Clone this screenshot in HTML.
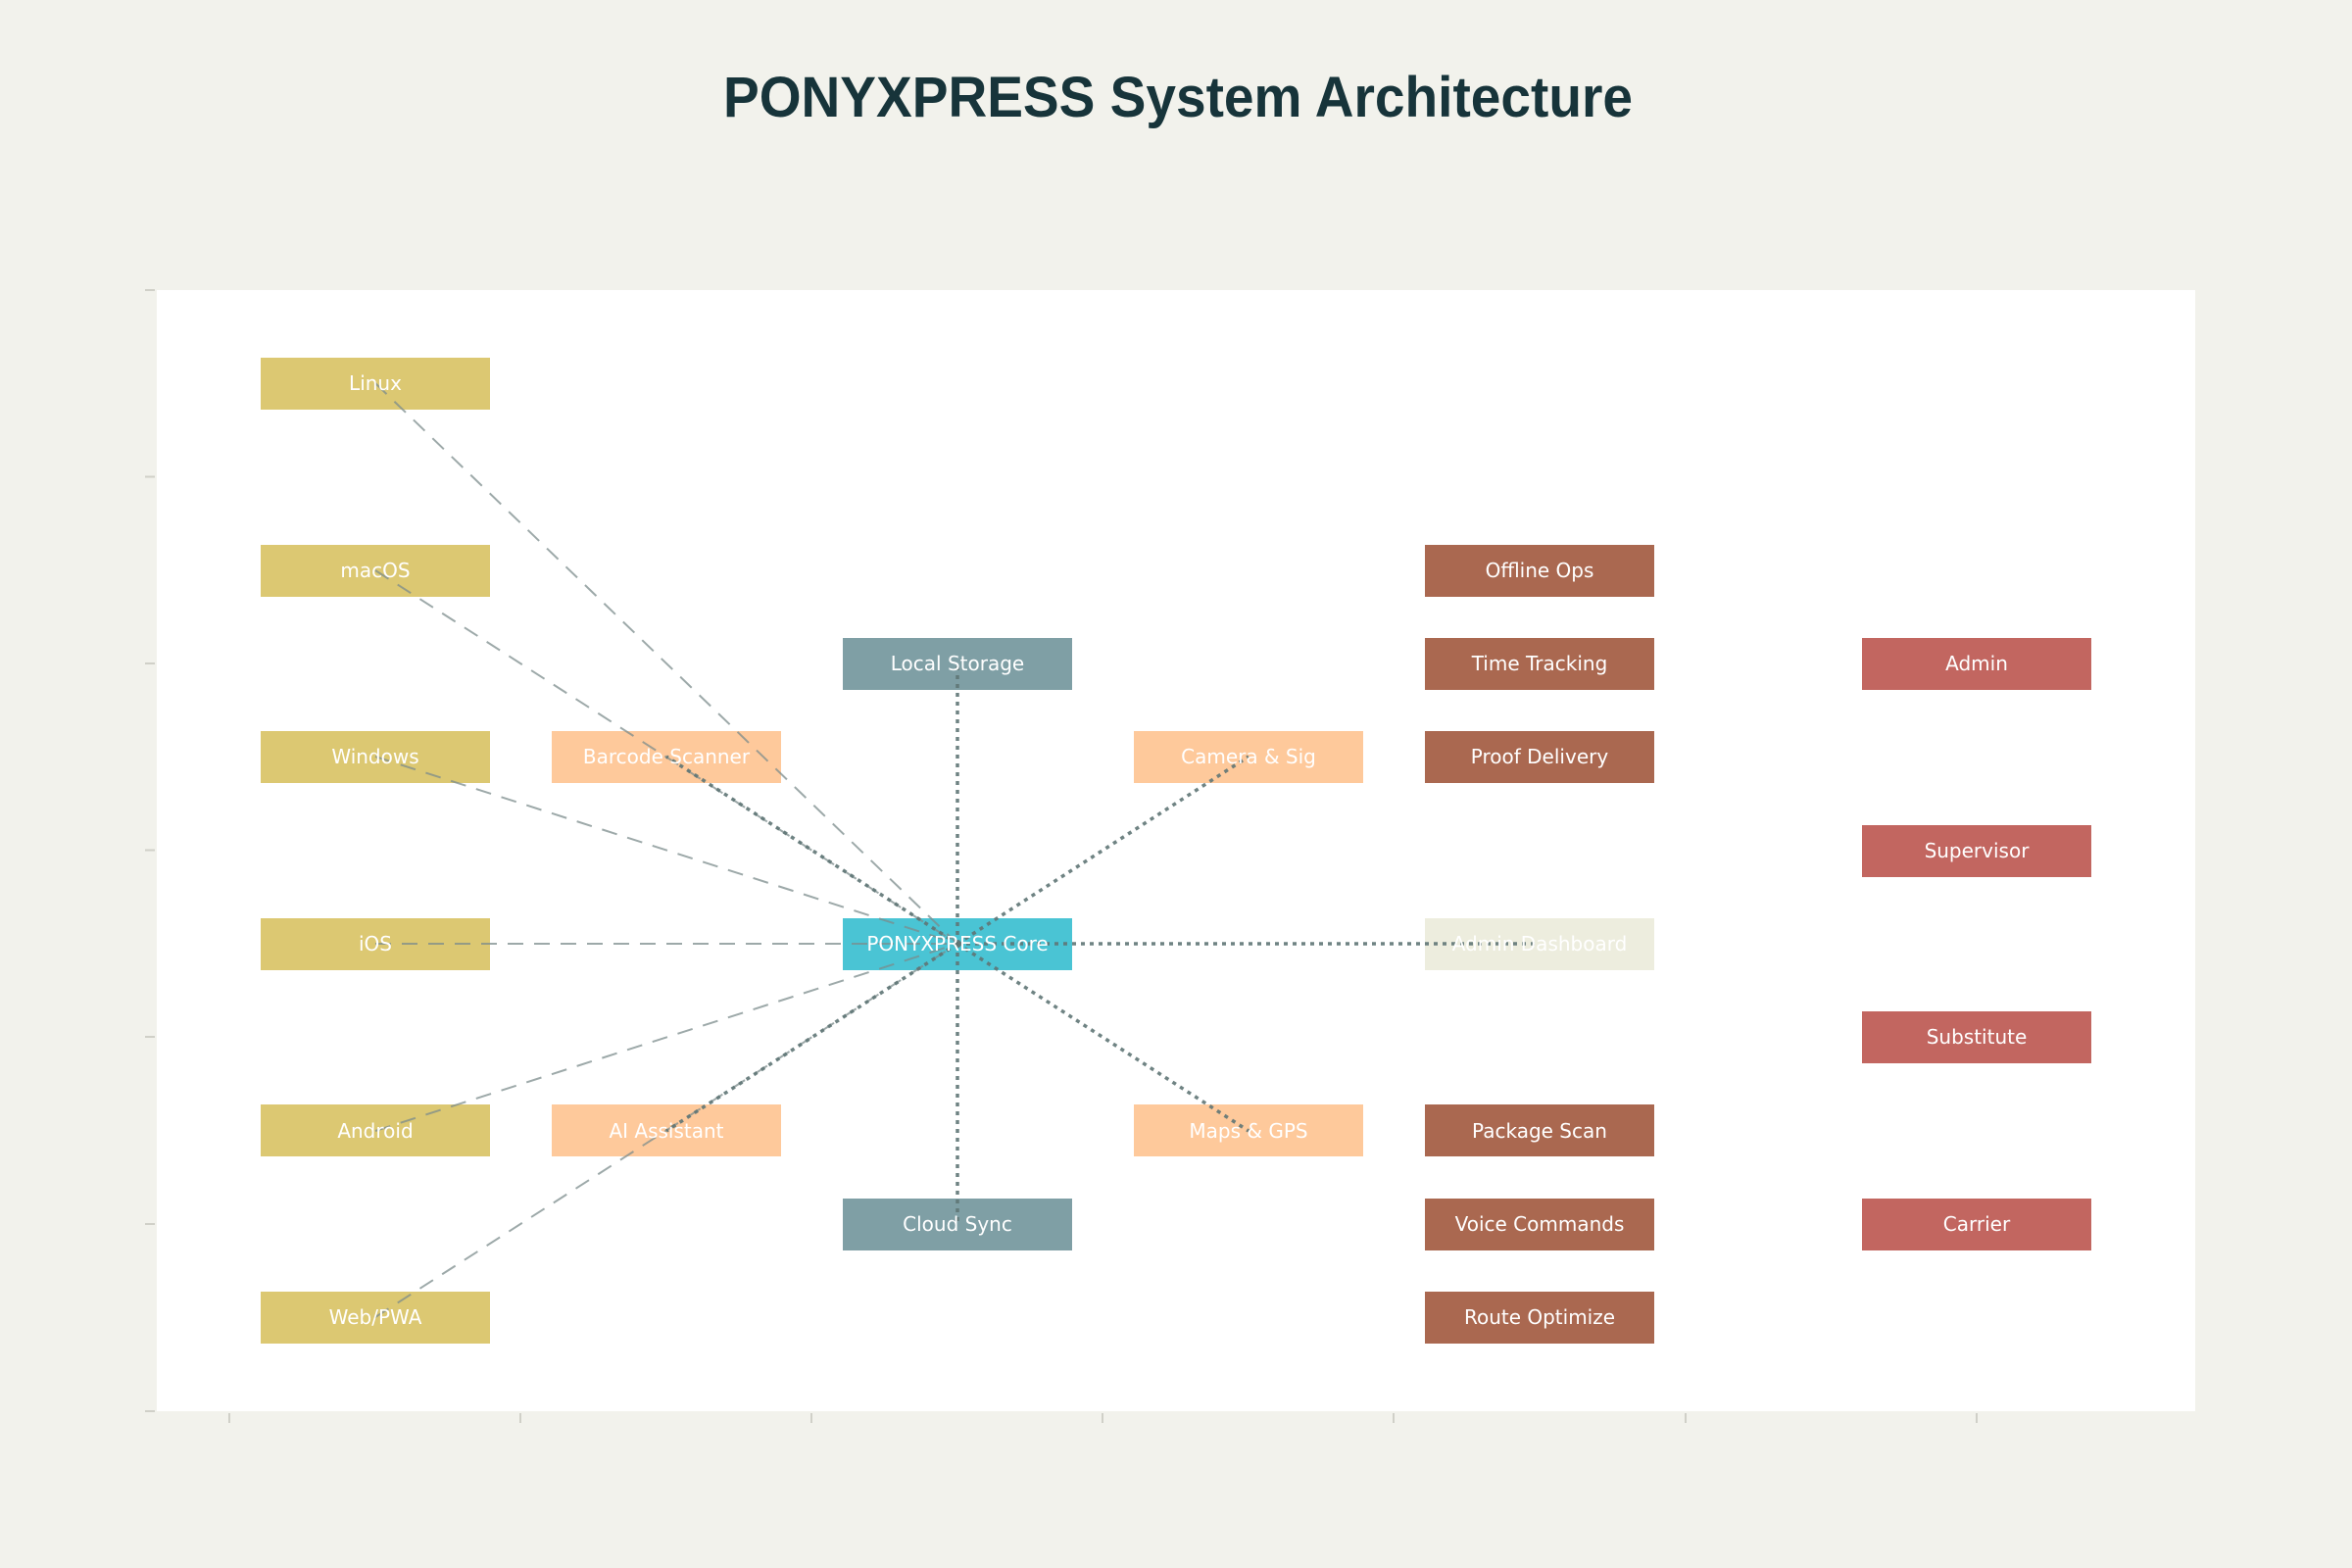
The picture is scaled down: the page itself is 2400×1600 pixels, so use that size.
<!DOCTYPE html>
<html><head><meta charset="utf-8"><style>
html,body{margin:0;padding:0;background:#f2f2ec;}
svg{display:block;}
.t{font-family:"DejaVu Sans","Liberation Sans",sans-serif;font-size:20px;fill:#fff;text-anchor:middle;dominant-baseline:central;}
</style></head><body>
<svg width="2400" height="1600" viewBox="0 0 2400 1600" xmlns="http://www.w3.org/2000/svg">
<rect width="2400" height="1600" fill="#f2f2ec"/>
<text x="1202" y="119" font-family="'Liberation Sans',sans-serif" font-weight="bold" font-size="58" fill="#17343a" text-anchor="middle" textLength="928" lengthAdjust="spacingAndGlyphs">PONYXPRESS System Architecture</text>
<rect x="160" y="296" width="2080" height="1144" fill="#fff"/>
<g stroke="#d0d0c8" stroke-width="2">
<line x1="148" y1="296" x2="158" y2="296"/><line x1="148" y1="486.5" x2="158" y2="486.5"/><line x1="148" y1="677" x2="158" y2="677"/><line x1="148" y1="867.5" x2="158" y2="867.5"/><line x1="148" y1="1058" x2="158" y2="1058"/><line x1="148" y1="1249" x2="158" y2="1249"/><line x1="148" y1="1440" x2="158" y2="1440"/>
<line x1="234" y1="1442" x2="234" y2="1452"/><line x1="531" y1="1442" x2="531" y2="1452"/><line x1="828" y1="1442" x2="828" y2="1452"/><line x1="1125" y1="1442" x2="1125" y2="1452"/><line x1="1422" y1="1442" x2="1422" y2="1452"/><line x1="1720" y1="1442" x2="1720" y2="1452"/><line x1="2017" y1="1442" x2="2017" y2="1452"/>
</g>
<g>
<!-- col0 -->
<rect x="266" y="365" width="234" height="53" fill="#dcc872"/>
<rect x="266" y="556" width="234" height="53" fill="#dcc872"/>
<rect x="266" y="746" width="234" height="53" fill="#dcc872"/>
<rect x="266" y="937" width="234" height="53" fill="#dcc872"/>
<rect x="266" y="1127" width="234" height="53" fill="#dcc872"/>
<rect x="266" y="1318" width="234" height="53" fill="#dcc872"/>
<!-- col1 -->
<rect x="563" y="746" width="234" height="53" fill="#fec99b"/>
<rect x="563" y="1127" width="234" height="53" fill="#fec99b"/>
<!-- col2 -->
<rect x="860" y="651" width="234" height="53" fill="#7f9fa5"/>
<rect x="860" y="937" width="234" height="53" fill="#4ac4d4"/>
<rect x="860" y="1223" width="234" height="53" fill="#7f9fa5"/>
<!-- col3 -->
<rect x="1157" y="746" width="234" height="53" fill="#fec99b"/>
<rect x="1157" y="1127" width="234" height="53" fill="#fec99b"/>
<!-- col4 -->
<rect x="1454" y="556" width="234" height="53" fill="#aa6850"/>
<rect x="1454" y="651" width="234" height="53" fill="#aa6850"/>
<rect x="1454" y="746" width="234" height="53" fill="#aa6850"/>
<rect x="1454" y="937" width="234" height="53" fill="#ededde"/>
<rect x="1454" y="1127" width="234" height="53" fill="#aa6850"/>
<rect x="1454" y="1223" width="234" height="53" fill="#aa6850"/>
<rect x="1454" y="1318" width="234" height="53" fill="#aa6850"/>
<!-- col5 -->
<rect x="1900" y="651" width="234" height="53" fill="#c26660"/>
<rect x="1900" y="842" width="234" height="53" fill="#c26660"/>
<rect x="1900" y="1032" width="234" height="53" fill="#c26660"/>
<rect x="1900" y="1223" width="234" height="53" fill="#c26660"/>
</g>
<g stroke="#7c8c8c" stroke-opacity="0.75" stroke-width="2" stroke-dasharray="16,11" fill="none">
<line x1="383" y1="391" x2="977" y2="963"/>
<line x1="383" y1="582" x2="977" y2="963"/>
<line x1="383" y1="772" x2="977" y2="963"/>
<line x1="383" y1="963" x2="977" y2="963"/>
<line x1="383" y1="1154" x2="977" y2="963"/>
<line x1="383" y1="1344" x2="977" y2="963"/>
</g>
<g stroke="#5f7676" stroke-opacity="0.9" stroke-width="3.5" stroke-dasharray="4,5" fill="none">
<line x1="977" y1="963" x2="680" y2="772"/>
<line x1="977" y1="963" x2="680" y2="1154"/>
<line x1="977" y1="963" x2="977" y2="677"/>
<line x1="977" y1="963" x2="977" y2="1249"/>
<line x1="977" y1="963" x2="1274" y2="772"/>
<line x1="977" y1="963" x2="1274" y2="1154"/>
<line x1="977" y1="963" x2="1571" y2="963"/>
</g>
<g class="t">
<text class="t" x="383" y="391">Linux</text>
<text class="t" x="383" y="582">macOS</text>
<text class="t" x="383" y="772">Windows</text>
<text class="t" x="383" y="963">iOS</text>
<text class="t" x="383" y="1154">Android</text>
<text class="t" x="383" y="1344">Web/PWA</text>
<text class="t" x="680" y="772">Barcode Scanner</text>
<text class="t" x="680" y="1154">AI Assistant</text>
<text class="t" x="977" y="677">Local Storage</text>
<text class="t" x="977" y="963">PONYXPRESS Core</text>
<text class="t" x="977" y="1249">Cloud Sync</text>
<text class="t" x="1274" y="772">Camera &amp; Sig</text>
<text class="t" x="1274" y="1154">Maps &amp; GPS</text>
<text class="t" x="1571" y="582">Offline Ops</text>
<text class="t" x="1571" y="677">Time Tracking</text>
<text class="t" x="1571" y="772">Proof Delivery</text>
<text class="t" x="1571" y="963">Admin Dashboard</text>
<text class="t" x="1571" y="1154">Package Scan</text>
<text class="t" x="1571" y="1249">Voice Commands</text>
<text class="t" x="1571" y="1344">Route Optimize</text>
<text class="t" x="2017" y="677">Admin</text>
<text class="t" x="2017" y="868">Supervisor</text>
<text class="t" x="2017" y="1058">Substitute</text>
<text class="t" x="2017" y="1249">Carrier</text>
</g>
</svg>
</body></html>
